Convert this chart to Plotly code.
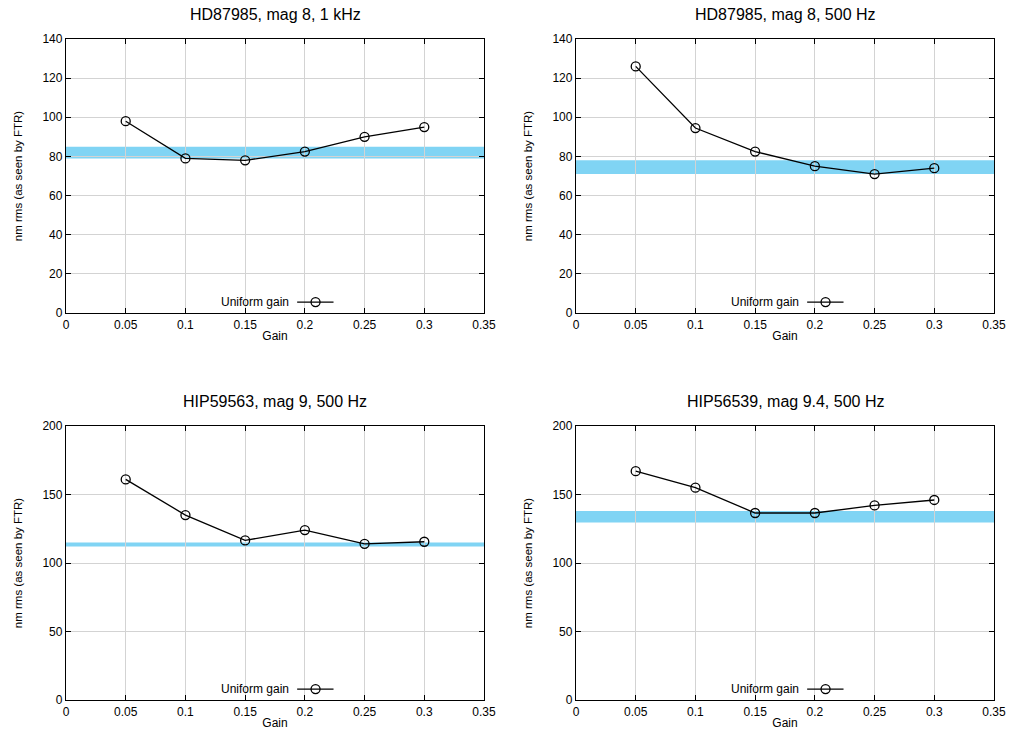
import plotly.graph_objects as go

gain = [0.05, 0.1, 0.15, 0.2, 0.25, 0.3]

titles = ["HD87985, mag 8, 1 kHz", "HD87985, mag 8, 500 Hz",
          "HIP59563, mag 9, 500 Hz", "HIP56539, mag 9.4, 500 Hz"]

rms_hd87985_1k = [98, 79, 78, 82.5, 90, 95]
rms_hd87985_500 = [126, 94.5, 82.5, 75, 71, 74]
rms_hip59563 = [161, 135, 116.5, 124, 114, 115.5]
rms_hip56539 = [167, 155, 136.5, 136.5, 142, 146]

band_hd87985_1k = [79, 85]
band_hd87985_500 = [71, 78]
band_hip59563 = [112, 115]
band_hip56539 = [129.5, 138]

y_max = [140, 140, 200, 200]
y_dtick = [20, 20, 50, 50]
x_ticks = [0, 0.05, 0.1, 0.15, 0.2, 0.25, 0.3, 0.35]
x_ticklabels = ["0", "0.05", "0.1", "0.15", "0.2", "0.25", "0.3", "0.35"]

series = [rms_hd87985_1k, rms_hd87985_500, rms_hip59563, rms_hip56539]
bands = [band_hd87985_1k, band_hd87985_500, band_hip59563, band_hip56539]

W, H = 1011, 746
xdoms = [[66 / W, 484 / W], [576 / W, 994 / W]]
ydoms = [[1 - 313 / H, 1 - 39 / H], [1 - 700 / H, 1 - 426 / H]]

FONT = "Liberation Sans, Arial, sans-serif"
BAND = "#80d4f4"

fig = go.Figure()
layout = dict(
    width=W, height=H, margin=dict(l=0, r=0, t=0, b=0, autoexpand=False),
    paper_bgcolor="white", plot_bgcolor="white",
    showlegend=False, font=dict(family=FONT, size=12, color="black"),
)
annotations = []
shapes = []

for i in range(4):
    r, c = divmod(i, 2)
    sfx = "" if i == 0 else str(i + 1)
    xa, ya = "x" + sfx, "y" + sfx
    fig.add_trace(go.Scatter(
        x=gain, y=series[i], mode="lines+markers", xaxis=xa, yaxis=ya,
        line=dict(color="black", width=1.3),
        marker=dict(symbol="circle-open", size=9, color="black", line=dict(width=1.3)),
        name="Uniform gain",
    ))
    common = dict(
        showgrid=True, gridcolor="#d3d3d3", gridwidth=1,
        showline=True, linecolor="black", linewidth=1.3, mirror="allticks",
        ticks="inside", ticklen=5, tickwidth=1, tickcolor="black",
        zeroline=False, tickfont=dict(family=FONT, size=12), automargin=False,
    )
    layout["xaxis" + sfx] = dict(
        common, domain=xdoms[c], anchor=ya, range=[0, 0.35],
        tickvals=x_ticks, ticktext=x_ticklabels,
        title=dict(text="Gain", font=dict(size=12), standoff=1),
    )
    layout["yaxis" + sfx] = dict(
        common, domain=ydoms[r], anchor=xa, range=[0, y_max[i]], dtick=y_dtick[i],
        title=dict(text="nm rms (as seen by FTR)", font=dict(size=11.5), standoff=17),
    )
    shapes.append(dict(
        type="rect", xref=xa + " domain", yref=ya, x0=0, x1=1,
        y0=bands[i][0], y1=bands[i][1], fillcolor=BAND, line=dict(width=0),
        layer="below",
    ))
    # title
    annotations.append(dict(
        text=titles[i], xref=xa + " domain", yref=ya + " domain",
        x=0.5, y=1.0, yshift=25, showarrow=False, xanchor="center",
        yanchor="middle", font=dict(family=FONT, size=16),
    ))
    # legend
    annotations.append(dict(
        text="Uniform gain", xref=xa + " domain", yref=ya + " domain",
        x=0.538, y=0.04, showarrow=False, xanchor="right", yanchor="middle",
        font=dict(family=FONT, size=12),
    ))
    shapes.append(dict(
        type="line", xref=xa + " domain", yref=ya + " domain",
        x0=0.553, x1=0.640, y0=0.04, y1=0.04, line=dict(color="black", width=1.3),
    ))
    shapes.append(dict(
        type="circle", xref=xa + " domain", yref=ya + " domain",
        xsizemode="pixel", ysizemode="pixel", xanchor=0.597, yanchor=0.04,
        x0=-4.5, x1=4.5, y0=-4.5, y1=4.5, line=dict(color="black", width=1.3),
    ))

layout["annotations"] = annotations
layout["shapes"] = shapes
fig.update_layout(**layout)
fig.write_html("out.html")
